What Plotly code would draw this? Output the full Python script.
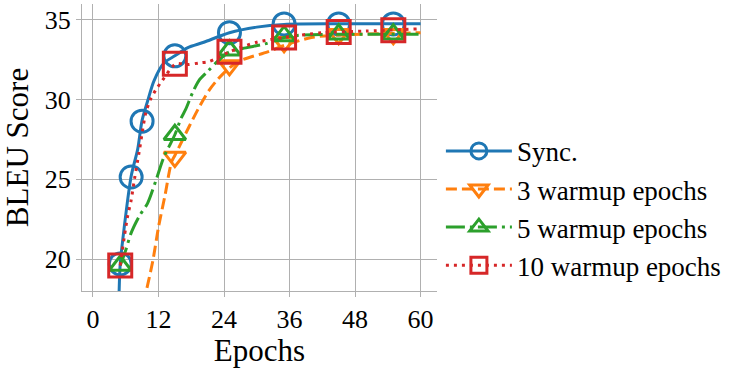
import plotly.graph_objects as go

# ---- data ----
series_names = ["Sync.", "3 warmup epochs", "5 warmup epochs", "10 warmup epochs"]
colors = ["#1f77b4", "#ff7f0e", "#2ca02c", "#d62728"]

# measured points (markers)
sync_x = [5, 7, 9, 15, 25, 35, 45, 55]
sync_y = [19.7, 25.15, 28.65, 32.75, 34.2, 34.75, 34.75, 34.75]

w3_x = [15, 25, 35, 45, 55]
w3_y = [26.4, 32.15, 33.6, 34.1, 34.1]

w5_x = [5, 15, 25, 35, 45, 55]
w5_y = [19.6, 27.8, 33.1, 34.0, 34.1, 34.1]

w10_x = [5, 15, 25, 35, 45, 55]
w10_y = [19.6, 32.25, 33.0, 33.9, 34.25, 34.35]

# fitted curves
sync_cx = [4.8, 5, 5.7, 7, 8.2, 9, 10, 11.2, 13, 15, 17.3, 20.3, 25, 30, 35, 45, 60]
sync_cy = [18.0, 19.7, 21.9, 25.2, 26.9, 28.7, 29.9, 31.2, 32.3, 32.75, 33.25, 33.6, 34.2,
           34.55, 34.72, 34.76, 34.76]

w3_cx = [9.9, 11.0, 12.0, 13.2, 14.4, 15, 17.6, 19.4, 21.3, 22.8, 25, 27, 32, 35, 40, 45, 60]
w3_cy = [18.2, 19.95, 22.0, 24.0, 26.1, 26.5, 28.3, 29.5, 30.6, 31.25, 32.0, 32.45, 33.0,
         33.4, 33.9, 34.05, 34.2]

w5_cx = [5, 6.05, 6.95, 8.5, 10, 11.5, 13, 15, 16.1, 17, 18.2, 19.4, 21.1, 22.8, 25, 28,
         31.5, 35, 38, 45, 60]
w5_cy = [19.6, 20.6, 21.6, 22.7, 23.5, 24.9, 26.4, 27.8, 28.8, 29.4, 30.4, 31.2, 31.8, 32.4,
         33.0, 33.25, 33.5, 33.9, 34.05, 34.1, 34.1]

w10_cx = [5, 6.3, 7, 7.6, 8.5, 9.1, 9.7, 10.6, 11.5, 12.7, 15.2, 17.3, 19.4, 21.3, 25, 30,
          35, 42, 50, 60]
w10_cy = [19.6, 22.6, 23.7, 25.0, 26.8, 28.1, 29.2, 30.06, 30.6, 31.2, 32.25, 32.2, 32.3,
          32.4, 33.0, 33.6, 33.9, 34.2, 34.3, 34.45]

x_ticks = [0, 12, 24, 36, 48, 60]
y_ticks = [20, 25, 30, 35]

# ---- styles ----
symbols = ["circle-open", "triangle-down-open", "triangle-up-open", "square-open"]
sizes = [22, 19, 19, 23]
dashes = ["solid", "11px,5px", "19px,5px,3px,5px", "3px,5px"]

FONT = "Liberation Serif"

points = [(sync_x, sync_y), (w3_x, w3_y), (w5_x, w5_y), (w10_x, w10_y)]
curves = [(sync_cx, sync_cy), (w3_cx, w3_cy), (w5_cx, w5_cy), (w10_cx, w10_cy)]

fig = go.Figure()
for i, name in enumerate(series_names):
    cx, cy = curves[i]
    px, py = points[i]
    fig.add_trace(go.Scatter(
        x=cx, y=cy, mode="lines", showlegend=False, hoverinfo="skip",
        line=dict(color=colors[i], width=3, dash=dashes[i], shape="spline", smoothing=0.8),
    ))
    fig.add_trace(go.Scatter(
        x=px, y=py, mode="markers", showlegend=False, name=name,
        marker=dict(symbol=symbols[i], size=sizes[i], color=colors[i],
                    line=dict(color=colors[i], width=3)),
    ))

# legend entries
for i, name in enumerate(series_names):
    fig.add_trace(go.Scatter(
        x=[None], y=[None], mode="lines+markers", name=name,
        line=dict(color=colors[i], width=3, dash=dashes[i]),
        marker=dict(symbol=symbols[i], size=sizes[i], color=colors[i],
                    line=dict(color=colors[i], width=3)),
    ))

grid_c = "#b0b0b0"
fig.update_layout(
    width=741, height=368,
    margin=dict(l=82, r=304, t=4, b=77),
    paper_bgcolor="white", plot_bgcolor="white",
    font=dict(family=FONT, size=26, color="black"),
    showlegend=True,
    legend=dict(x=1.011, xanchor="left", y=0.288, yanchor="middle",
                font=dict(family=FONT, size=27, color="black"),
                bgcolor="rgba(0,0,0,0)", itemwidth=66, tracegroupgap=0),
    xaxis=dict(
        range=[-2, 63], tickmode="array", tickvals=x_ticks, ticktext=[str(v) for v in x_ticks],
        showgrid=True, gridcolor=grid_c, gridwidth=1, zeroline=False,
        showline=True, linecolor=grid_c, linewidth=1.2,
        ticks="outside", ticklen=5, tickcolor=grid_c, tickwidth=1.2,
        tickfont=dict(family=FONT, size=26),
        title=dict(text="Epochs", font=dict(family=FONT, size=31), standoff=6),
        automargin=False,
    ),
    yaxis=dict(
        range=[18, 36], tickmode="array", tickvals=y_ticks, ticktext=[str(v) for v in y_ticks],
        showgrid=True, gridcolor=grid_c, gridwidth=1, zeroline=False,
        showline=True, linecolor=grid_c, linewidth=1.2,
        ticks="outside", ticklen=5, tickcolor=grid_c, tickwidth=1.2,
        tickfont=dict(family=FONT, size=26),
        title=dict(text="BLEU Score", font=dict(family=FONT, size=31), standoff=8),
        automargin=False,
    ),
)

fig.write_html("out.html", config={"displayModeBar": False},
               post_script="document.body.style.margin='0';")
